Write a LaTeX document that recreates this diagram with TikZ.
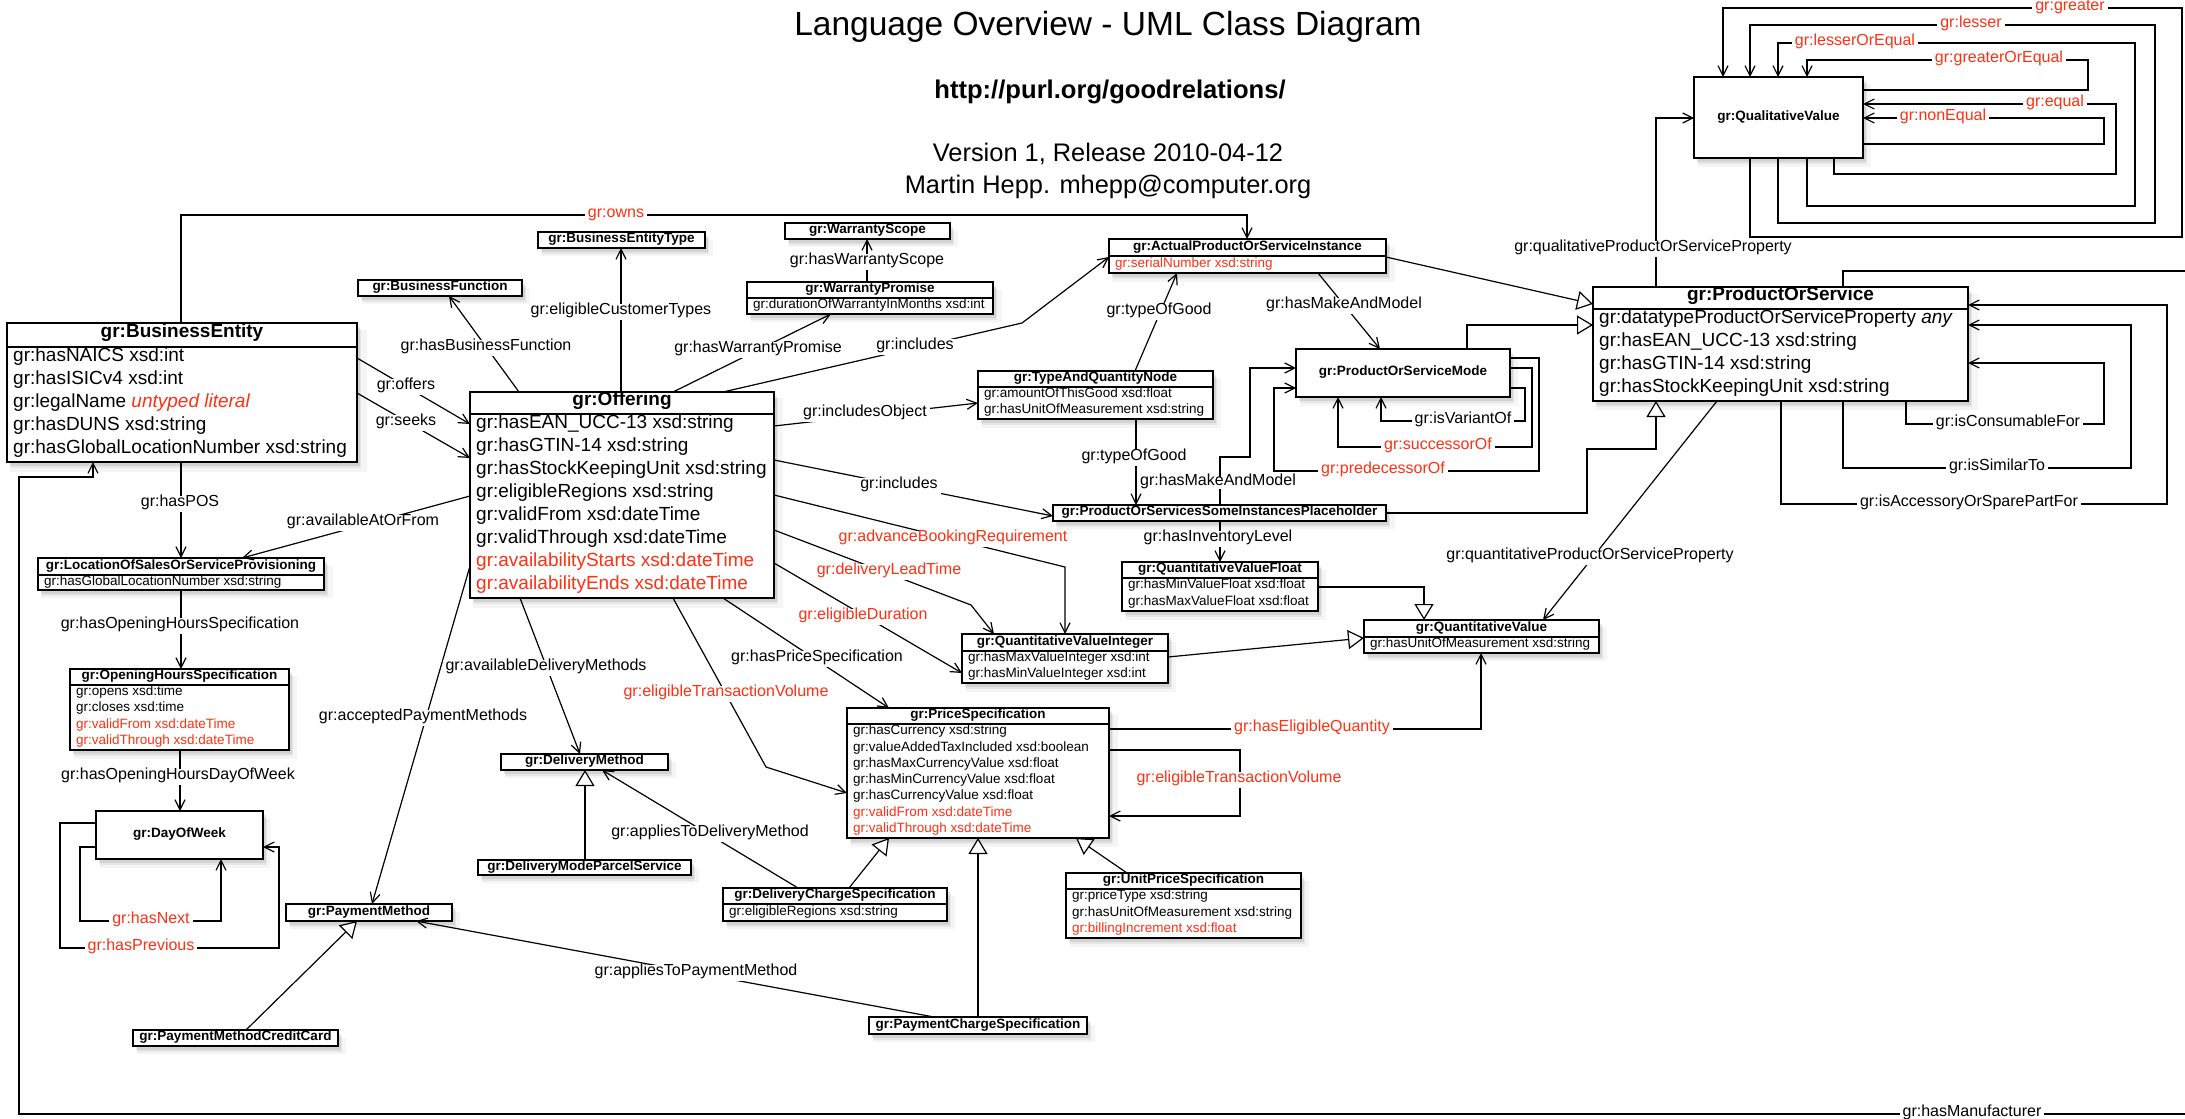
\documentclass[tikz,border=0pt]{standalone}
\usepackage{fontspec}
\setmainfont{Liberation Sans}
\usetikzlibrary{arrows.meta,shadows,fit,calc}
\definecolor{grred}{RGB}{255,48,20}
\newcommand\rd[1]{\textcolor{grred}{#1}}
\tikzset{
  cls/.style={draw, line width=1.6pt, fill=white, inner sep=0pt, outer sep=0pt,
    drop shadow={shadow xshift=6pt, shadow yshift=-8pt, opacity=0.08, shadow scale=1.02},
    drop shadow={shadow xshift=4pt, shadow yshift=-6pt, opacity=0.12},
    drop shadow={shadow xshift=3pt, shadow yshift=-4pt, opacity=0.18}},
  sepline/.style={line width=1.6pt},
  bigttl/.style={font=\fontsize{19}{22}\selectfont\bfseries, inner sep=0pt, text height=0.72em, text depth=0.2em},
  bigrow/.style={font=\fontsize{19}{22}\selectfont, inner sep=0pt, text height=0.72em, text depth=0.2em, anchor=west},
  smttl/.style={font=\fontsize{13.5}{16}\selectfont\bfseries, inner sep=0pt, text height=0.72em, text depth=0.2em},
  smrow/.style={font=\fontsize{13.5}{16}\selectfont, inner sep=0pt, text height=0.72em, text depth=0.2em, anchor=west},
  ttl/.style=smttl, row/.style=smrow,
  lbl/.style={font=\fontsize{16}{19}\selectfont, fill=white, inner sep=3pt, text height=0.72em, text depth=0.2em},
  rlbl/.style={lbl, text=grred},
  conn/.style={line width=1.2pt},
  assoc/.style={conn, -{Straight Barb[length=10pt, width=10pt]}},
  gen/.style={conn, -{Triangle[length=16pt, width=19pt, fill=white]}},
}
% name, x1, y1, x2, y2, sep, nrows, title, rows
\newcommand\umlclass[9]{%
  \node[cls, fit={(#2,#3) (#4,#5)}] (#1) {};
  \draw[sepline] (#1.west |- 0,#6) -- (#1.east |- 0,#6);
  \node[ttl] (#1-t) at ({(#2+#4)/2}, {(#3+#6)/2}) {#8};
  \foreach \r [count=\i from 0] in {#9} {
    \node[row] (#1-r\i) at ({#2+6}, {#6+(#5-#6)/#7*(\i+0.5)}) {\r};
  }
}
\newcommand\titlebox[6]{%
  \node[cls, fit={(#2,#3) (#4,#5)}] (#1) {};
  \node[ttl] (#1-t) at (#1.center) {#6};
}
\begin{document}
\begin{tikzpicture}[x=1pt, y=-1pt]
\useasboundingbox (0,0) rectangle (2185,1119);
\fill[white] (0,0) rectangle (2185,1119);
\clip (0,0) rectangle (2185,1119);

% header texts
\node[font=\fontsize{33.5}{40}\selectfont, anchor=base, inner sep=0pt] (title) at (1108,35) {Language Overview - UML Class Diagram};
\node[font=\fontsize{25.6}{30}\selectfont\bfseries, anchor=base, inner sep=0pt] (url) at (1110,98) {http://purl.org/goodrelations/};
\node[font=\fontsize{25.4}{30}\selectfont, anchor=base, inner sep=0pt] (ver) at (1108,161) {Version 1, Release 2010-04-12};
\node[font=\fontsize{25.4}{30}\selectfont, anchor=base, inner sep=0pt] (auth) at (1108,193) {Martin Hepp. mhepp@computer.org};

% big classes
\begin{scope}[ttl/.style=bigttl, row/.style=bigrow]
\umlclass{BE}{7}{323}{357}{462}{347}{5}{gr:BusinessEntity}{gr:hasNAICS xsd:int, gr:hasISICv4 xsd:int, gr:legalName \rd{\textit{untyped literal}}, gr:hasDUNS xsd:string, gr:hasGlobalLocationNumber xsd:string}
\umlclass{OFF}{470}{392}{774}{598}{414}{8}{gr:Offering}{gr:hasEAN\_UCC-13 xsd:string, gr:hasGTIN-14 xsd:string, gr:hasStockKeepingUnit xsd:string, gr:eligibleRegions xsd:string, gr:validFrom xsd:dateTime, gr:validThrough xsd:dateTime, \rd{gr:availabilityStarts xsd:dateTime}, \rd{gr:availabilityEnds xsd:dateTime}}
\umlclass{POS}{1593}{287}{1968}{401}{309}{4}{gr:ProductOrService}{gr:datatypeProductOrServiceProperty \textit{any}, gr:hasEAN\_UCC-13 xsd:string, gr:hasGTIN-14 xsd:string, gr:hasStockKeepingUnit xsd:string}
\end{scope}

% small classes
\titlebox{BET}{538}{232}{705}{248}{gr:BusinessEntityType}
\titlebox{BF}{358}{280}{522}{296}{gr:BusinessFunction}
\titlebox{WS}{785}{223}{950}{239}{gr:WarrantyScope}
\umlclass{WP}{747}{282}{993}{314}{298}{1}{gr:WarrantyPromise}{gr:durationOfWarrantyInMonths xsd:int}
\umlclass{APSI}{1109}{239}{1386}{273}{256}{1}{gr:ActualProductOrServiceInstance}{\rd{gr:serialNumber xsd:string}}
\umlclass{TAQN}{978}{371}{1213}{419}{387}{2}{gr:TypeAndQuantityNode}{gr:amountOfThisGood xsd:float, gr:hasUnitOfMeasurement xsd:string}
\titlebox{PH}{1053}{505}{1386}{521}{gr:ProductOrServicesSomeInstancesPlaceholder}
\umlclass{LOS}{38}{558}{324}{590}{575}{1}{gr:LocationOfSalesOrServiceProvisioning}{gr:hasGlobalLocationNumber xsd:string}
\umlclass{QVF}{1122}{562}{1318}{611}{578}{2}{gr:QuantitativeValueFloat}{gr:hasMinValueFloat xsd:float, gr:hasMaxValueFloat xsd:float}
\umlclass{QV}{1364}{620}{1599}{653}{637}{1}{gr:QuantitativeValue}{gr:hasUnitOfMeasurement xsd:string}
\umlclass{QVI}{962}{634}{1168}{683}{651}{2}{gr:QuantitativeValueInteger}{gr:hasMaxValueInteger xsd:int, gr:hasMinValueInteger xsd:int}
\umlclass{OHS}{70}{669}{289}{750}{685}{4}{gr:OpeningHoursSpecification}{gr:opens xsd:time, gr:closes xsd:time, \rd{gr:validFrom xsd:dateTime}, \rd{gr:validThrough xsd:dateTime}}
\titlebox{DM}{501}{754}{668}{770}{gr:DeliveryMethod}
\umlclass{PS}{847}{708}{1109}{838}{724}{7}{gr:PriceSpecification}{gr:hasCurrency xsd:string, gr:valueAddedTaxIncluded xsd:boolean, gr:hasMaxCurrencyValue xsd:float, gr:hasMinCurrencyValue xsd:float, gr:hasCurrencyValue xsd:float, \rd{gr:validFrom xsd:dateTime}, \rd{gr:validThrough xsd:dateTime}}
\titlebox{DOW}{96}{811}{263}{859}{gr:DayOfWeek}
\titlebox{DMPS}{478}{860}{691}{875}{gr:DeliveryModeParcelService}
\umlclass{DCS}{723}{888}{947}{921}{904}{1}{gr:DeliveryChargeSpecification}{gr:eligibleRegions xsd:string}
\umlclass{UPS}{1066}{873}{1301}{938}{889}{3}{gr:UnitPriceSpecification}{gr:priceType xsd:string, gr:hasUnitOfMeasurement xsd:string, \rd{gr:billingIncrement xsd:float}}
\titlebox{PM}{286}{904}{452}{921}{gr:PaymentMethod}
\titlebox{PMCC}{133}{1030}{338}{1046}{gr:PaymentMethodCreditCard}
\titlebox{PCS}{869}{1017}{1087}{1034}{gr:PaymentChargeSpecification}
\titlebox{POSM}{1296}{349}{1510}{397}{gr:ProductOrServiceMode}
\titlebox{QLV}{1694}{77}{1863}{158}{gr:QualitativeValue}

% connectors
\draw[assoc] (181,0 |- BE.north) |- (1247,215) -- (1247,0 |- APSI.north);
\draw[assoc] (BE.east |- 0,358) -- (OFF.west |- 0,424);
\draw[assoc] (BE.east |- 0,393) -- (OFF.west |- 0,458);
\draw[assoc] (519,0 |- OFF.north) -- (449,0 |- BF.south);
\draw[assoc] (621,0 |- OFF.north) -- (621,0 |- BET.south);
\draw[assoc] (673,0 |- OFF.north) -- (831,0 |- WP.south);
\draw[assoc] (867,0 |- WP.north) -- (867,0 |- WS.south);
\draw[assoc] (723,0 |- OFF.north) -- (1022,323) -- (APSI.west |- 0,257);
\draw[assoc] (OFF.east |- 0,426) -- (TAQN.west |- 0,403);
\draw[assoc] (1135,0 |- TAQN.north) -- (1177,0 |- APSI.south);
\draw[assoc] (1318,0 |- APSI.south) -- (1380,0 |- POSM.north);
\draw[assoc] (1136,0 |- TAQN.south) -- (1136,0 |- PH.north);
\draw[assoc] (1220,0 |- PH.north) -- (1220,457) -- (1250,457) -- (1250,368) -- (POSM.west |- 0,368);
\draw[assoc] (OFF.east |- 0,460) -- (PH.west |- 0,516);
\draw[assoc] (OFF.east |- 0,495) -- (1065,567) -- (1065,0 |- QVI.north);
\draw[assoc] (OFF.east |- 0,530) -- (971,605) -- (994,0 |- QVI.north);
\draw[assoc] (OFF.east |- 0,563) -- (QVI.west |- 0,673);
\draw[assoc] (723,0 |- OFF.south) -- (889,0 |- PS.north);
\draw[assoc] (673,0 |- OFF.south) -- (766,767) -- (PS.west |- 0,793);
\draw[assoc] (520,0 |- OFF.south) -- (580,0 |- DM.north);
\draw[assoc] (OFF.west |- 0,566) -- (372,0 |- PM.north);
\draw[assoc] (OFF.west |- 0,496) -- (242,0 |- LOS.north);
\draw[assoc] (181,0 |- BE.south) -- (181,0 |- LOS.north);
\draw[assoc] (181,0 |- LOS.south) -- (181,0 |- OHS.north);
\draw[assoc] (180,0 |- OHS.south) -- (180,0 |- DOW.north);
\draw[assoc] (DOW.west |- 0,847) -- (80,847) -- (80,921) -- (221,921) -- (221,0 |- DOW.south);
\draw[assoc] (DOW.west |- 0,823) -- (60,823) -- (60,948) -- (279,948) -- (279,847) -- (DOW.east |- 0,847);
\draw[gen] (585,0 |- DMPS.north) -- (585,0 |- DM.south);
\draw[assoc] (798,0 |- DCS.north) -- (602,0 |- DM.south);
\draw[gen] (246,0 |- PMCC.north) -- (357,0 |- PM.south);
\draw[assoc] (934,0 |- PCS.north) -- (416,0 |- PM.south);
\draw[gen] (849,0 |- DCS.north) -- (889,0 |- PS.south);
\draw[gen] (978,0 |- PCS.north) -- (978,0 |- PS.south);
\draw[gen] (1127,0 |- UPS.north) -- (1076,0 |- PS.south);
\draw[assoc] (PS.east |- 0,729) -| (1481,0 |- QV.south);
\draw[assoc] (PS.east |- 0,750) -- (1240,750) -- (1240,816) -- (PS.east |- 0,816);
\draw[assoc] (1220,0 |- PH.south) -- (1220,0 |- QVF.north);
\draw[gen] (QVF.east |- 0,587) -| (1424,0 |- QV.north);
\draw[gen] (QVI.east |- 0,657) -- (QV.west |- 0,638);
\draw[assoc] (1717,0 |- POS.south) -- (1543,0 |- QV.north);
\draw[gen] (PH.east |- 0,513) -- (1587,513) -- (1587,449) -- (1656,449) -- (1656,0 |- POS.south);
\draw[gen] (APSI.east |- 0,257) -- (POS.west |- 0,304);
\draw[gen] (1467,0 |- POSM.north) |- (POS.west |- 0,325);
\draw[assoc] (POSM.east |- 0,388) -- (1525,388) -- (1525,421) -- (1381,421) -- (1381,0 |- POSM.south);
\draw[assoc] (POSM.east |- 0,368) -- (1532,368) -- (1532,447) -- (1338,447) -- (1338,0 |- POSM.south);
\draw[assoc] (POSM.east |- 0,358) -- (1539,358) -- (1539,471) -- (1274,471) -- (1274,388) -- (POSM.west |- 0,388);
\draw[assoc] (1656,0 |- POS.north) |- (QLV.west |- 0,118);
\draw[assoc] (1906,0 |- POS.south) |- (2104,424) |- (POS.east |- 0,363);
\draw[assoc] (1843,0 |- POS.south) |- (2131,468) |- (POS.east |- 0,325);
\draw[assoc] (1781,0 |- POS.south) |- (2167,504) |- (POS.east |- 0,305);
\draw[assoc] (1843,0 |- POS.north) |- (2195,271) |- (19,1114) |- (93,477) -- (93,0 |- BE.south);
\draw[assoc] (1750,0 |- QLV.south) |- (2182,237) |- (1723,8) -- (1723,0 |- QLV.north);
\draw[assoc] (1778,0 |- QLV.south) |- (2155,223) |- (1750,25) -- (1750,0 |- QLV.north);
\draw[assoc] (1807,0 |- QLV.south) |- (2135,206) |- (1778,43) -- (1778,0 |- QLV.north);
\draw[assoc] (QLV.east |- 0,90) -| (2088,60) -| (1807,0 |- QLV.north);
\draw[assoc] (1834,0 |- QLV.south) |- (2116,174) |- (QLV.east |- 0,104);
\draw[assoc] (QLV.east |- 0,144) -| (2104,118) -- (QLV.east |- 0,118);

% labels
\node[rlbl] (l1) at (616,215) {gr:owns};
\node[lbl] (l2) at (406,387) {gr:offers};
\node[lbl] (l3) at (406,423) {gr:seeks};
\node[lbl] (l4) at (486,348) {gr:hasBusinessFunction};
\node[lbl] (l5) at (621,312) {gr:eligibleCustomerTypes};
\node[lbl] (l6) at (758,350) {gr:hasWarrantyPromise};
\node[lbl] (l7) at (867,262) {gr:hasWarrantyScope};
\node[lbl] (l8) at (915,347) {gr:includes};
\node[lbl] (l9) at (865,414) {gr:includesObject};
\node[lbl] (l10) at (1159,312) {gr:typeOfGood};
\node[lbl] (l11) at (1344,306) {gr:hasMakeAndModel};
\node[lbl] (l12) at (1134,458) {gr:typeOfGood};
\node[lbl, inner sep=1.5pt] (l13) at (1218,483) {gr:hasMakeAndModel};
\node[lbl] (l14) at (899,486) {gr:includes};
\node[rlbl] (l15) at (953,539) {gr:advanceBookingRequirement};
\node[rlbl] (l16) at (889,572) {gr:deliveryLeadTime};
\node[rlbl] (l17) at (863,617) {gr:eligibleDuration};
\node[lbl] (l18) at (817,659) {gr:hasPriceSpecification};
\node[rlbl] (l19) at (726,694) {gr:eligibleTransactionVolume};
\node[lbl] (l20) at (546,668) {gr:availableDeliveryMethods};
\node[lbl] (l21) at (423,718) {gr:acceptedPaymentMethods};
\node[lbl] (l22) at (363,523) {gr:availableAtOrFrom};
\node[lbl] (l23) at (180,504) {gr:hasPOS};
\node[lbl] (l24) at (180,626) {gr:hasOpeningHoursSpecification};
\node[lbl] (l25) at (178,777) {gr:hasOpeningHoursDayOfWeek};
\node[rlbl] (l26) at (151,921) {gr:hasNext};
\node[rlbl] (l27) at (141,948) {gr:hasPrevious};
\node[lbl] (l28) at (710,834) {gr:appliesToDeliveryMethod};
\node[lbl] (l29) at (696,973) {gr:appliesToPaymentMethod};
\node[rlbl] (l30) at (1312,729) {gr:hasEligibleQuantity};
\node[rlbl] (l31) at (1239,780) {gr:eligibleTransactionVolume};
\node[lbl] (l32) at (1218,539) {gr:hasInventoryLevel};
\node[lbl] (l33) at (1590,557) {gr:quantitativeProductOrServiceProperty};
\node[lbl] (l34) at (1463,421) {gr:isVariantOf};
\node[rlbl] (l35) at (1438,447) {gr:successorOf};
\node[rlbl] (l36) at (1383,471) {gr:predecessorOf};
\node[lbl] (l37) at (1653,249) {gr:qualitativeProductOrServiceProperty};
\node[lbl] (l38) at (2008,424) {gr:isConsumableFor};
\node[lbl] (l39) at (1997,468) {gr:isSimilarTo};
\node[lbl] (l40) at (1969,504) {gr:isAccessoryOrSparePartFor};
\node[lbl] (l41) at (1972,1114) {gr:hasManufacturer};
\node[rlbl] (l42) at (2070,8) {gr:greater};
\node[rlbl] (l43) at (1971,25) {gr:lesser};
\node[rlbl] (l44) at (1855,43) {gr:lesserOrEqual};
\node[rlbl] (l45) at (1999,60) {gr:greaterOrEqual};
\node[rlbl] (l46) at (2055,104) {gr:equal};
\node[rlbl] (l47) at (1943,118) {gr:nonEqual};
\end{tikzpicture}
\end{document}
